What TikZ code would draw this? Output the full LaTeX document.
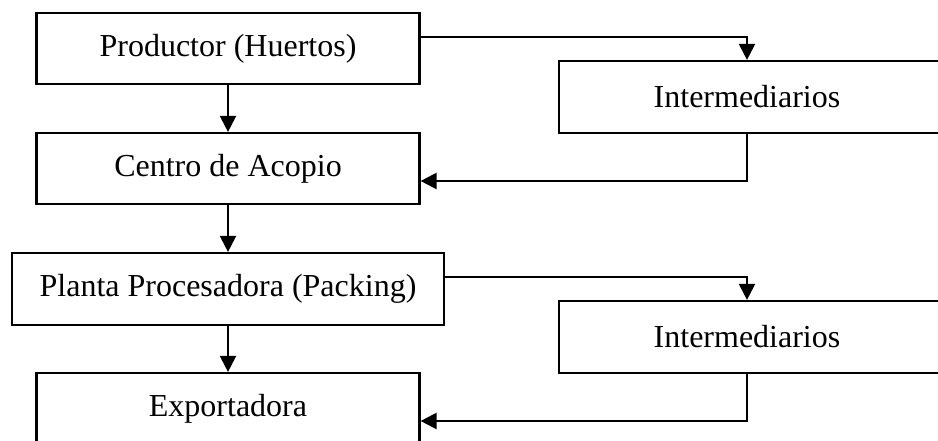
\documentclass[tikz,border=0pt]{standalone}
\usepackage{fontspec}
\setmainfont{Liberation Serif}
\usetikzlibrary{arrows.meta}
\begin{document}
\begin{tikzpicture}[x=0.5pt, y=-0.5pt,
		caja/.style={draw, line width=1.1pt, inner sep=0pt, font=\fontsize{16}{19}\selectfont},
		flecha/.style={draw, line width=1.1pt, -{Triangle[width=8pt,length=8pt]}}]
		\useasboundingbox ( 0, 0 ) rectangle ( 938, 440 );
		\clip ( 0, 0 ) rectangle ( 938, 440 );

		% cadena principal
		\node [caja, minimum width=191.5pt, minimum height=35.5pt] (prod) at ( 228, 48.5 ) {Productor (Huertos)};
		\node [caja, minimum width=191.5pt, minimum height=35.5pt] (acop) at ( 228, 168.5 ) {Centro de Acopio};
		\node [caja, minimum width=216pt, minimum height=36pt] (plan) at ( 228, 289 ) {Planta Procesadora (Packing)};
		\node [caja, minimum width=191.5pt, minimum height=35.5pt] (expo) at ( 228, 408.5 ) {Exportadora};

		% intermediarios
		\node [caja, minimum width=193pt, minimum height=36pt] (inta) at ( 752, 97 ) {\hspace*{-5pt}Intermediarios};
		\node [caja, minimum width=193pt, minimum height=36pt] (intb) at ( 752, 337 ) {\hspace*{-5pt}Intermediarios};

		% flechas verticales
		\draw [flecha] (prod) -- (acop);
		\draw [flecha] (acop) -- (plan);
		\draw [flecha] (plan) -- (expo);

		% desvios por intermediarios
		\draw [flecha] ([yshift=5.75pt]prod.east) -| ([xshift=-2.5pt]inta.north);
		\draw [flecha] ([xshift=-2.5pt]inta.south) |- ([yshift=-6.25pt]acop.east);
		\draw [flecha] ([yshift=6pt]plan.east) -| ([xshift=-2.5pt]intb.north);
		\draw [flecha] ([xshift=-2.5pt]intb.south) |- ([yshift=-6.25pt]expo.east);
	\end{tikzpicture}
\end{document}
